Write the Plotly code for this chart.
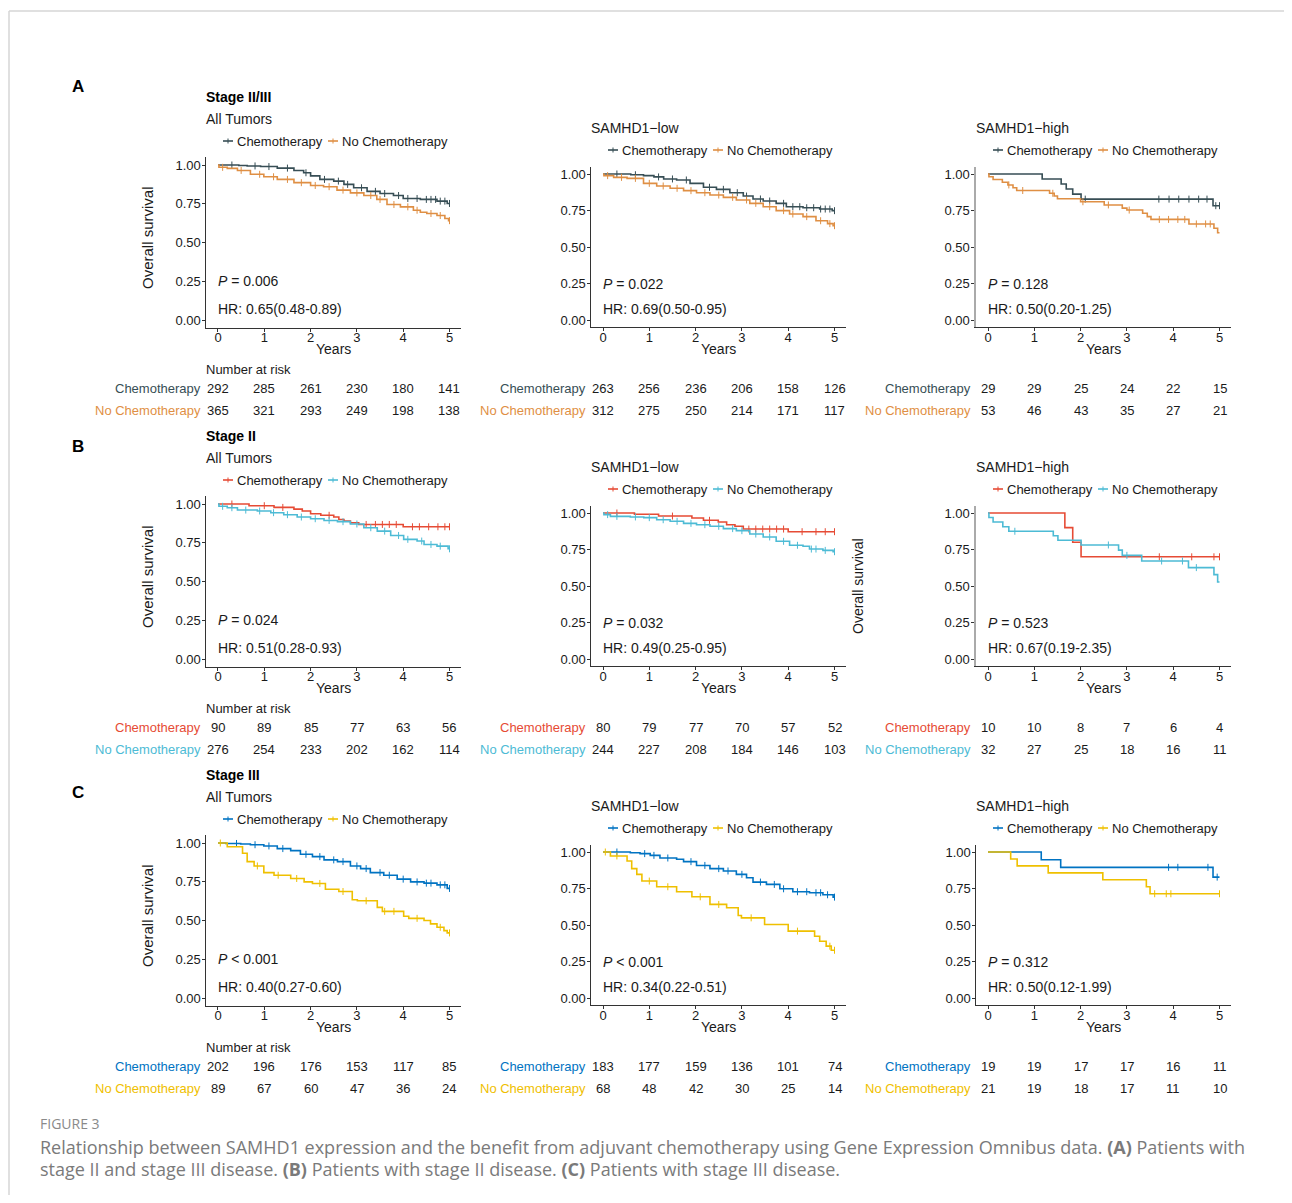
import plotly.graph_objects as go

# ---------------- data ----------------
TICK_YEARS = [0, 1, 2, 3, 4, 5]
TICK_SURV = [0.0, 0.25, 0.5, 0.75, 1.0]
TICK_SURV_TEXT = ["0.00", "0.25", "0.50", "0.75", "1.00"]
GROUPS = ["Chemotherapy", "No Chemotherapy"]
ROW_LETTERS = ["A", "B", "C"]
ROW_TITLES = ["Stage II/III", "Stage II", "Stage III"]
COL_TITLES = ["All Tumors", "SAMHD1\u2212low", "SAMHD1\u2212high"]
P_TEXT = [["= 0.006", "= 0.022", "= 0.128"],
          ["= 0.024", "= 0.032", "= 0.523"],
          ["< 0.001", "< 0.001", "= 0.312"]]
HR_TEXT = [["HR: 0.65(0.48-0.89)", "HR: 0.69(0.50-0.95)", "HR: 0.50(0.20-1.25)"],
           ["HR: 0.51(0.28-0.93)", "HR: 0.49(0.25-0.95)", "HR: 0.67(0.19-2.35)"],
           ["HR: 0.40(0.27-0.60)", "HR: 0.34(0.22-0.51)", "HR: 0.50(0.12-1.99)"]]

# Number at risk
RISK_A_ALL_CHEMO = [292, 285, 261, 230, 180, 141]
RISK_A_ALL_NOCHEMO = [365, 321, 293, 249, 198, 138]
RISK_A_LOW_CHEMO = [263, 256, 236, 206, 158, 126]
RISK_A_LOW_NOCHEMO = [312, 275, 250, 214, 171, 117]
RISK_A_HIGH_CHEMO = [29, 29, 25, 24, 22, 15]
RISK_A_HIGH_NOCHEMO = [53, 46, 43, 35, 27, 21]
RISK_B_ALL_CHEMO = [90, 89, 85, 77, 63, 56]
RISK_B_ALL_NOCHEMO = [276, 254, 233, 202, 162, 114]
RISK_B_LOW_CHEMO = [80, 79, 77, 70, 57, 52]
RISK_B_LOW_NOCHEMO = [244, 227, 208, 184, 146, 103]
RISK_B_HIGH_CHEMO = [10, 10, 8, 7, 6, 4]
RISK_B_HIGH_NOCHEMO = [32, 27, 25, 18, 16, 11]
RISK_C_ALL_CHEMO = [202, 196, 176, 153, 117, 85]
RISK_C_ALL_NOCHEMO = [89, 67, 60, 47, 36, 24]
RISK_C_LOW_CHEMO = [183, 177, 159, 136, 101, 74]
RISK_C_LOW_NOCHEMO = [68, 48, 42, 30, 25, 14]
RISK_C_HIGH_CHEMO = [19, 19, 17, 17, 16, 11]
RISK_C_HIGH_NOCHEMO = [21, 19, 18, 17, 11, 10]

# Kaplan-Meier steps (event times, survival after event) and censor times
A_ALL_CHEMO_T = [0.45, 0.63, 0.92, 1.28, 1.64, 1.85, 2.0, 2.2, 2.5, 2.72, 2.93, 3.22, 3.5, 3.79, 4.0, 4.37, 4.73, 4.95]
A_ALL_CHEMO_S = [0.997, 0.994, 0.99, 0.98, 0.965, 0.95, 0.93, 0.907, 0.896, 0.875, 0.853, 0.83, 0.816, 0.803, 0.784, 0.778, 0.767, 0.752]
A_ALL_CHEMO_C = [0.3, 0.8, 1.1, 1.5, 1.9, 2.3, 2.6, 2.8, 3.1, 3.4, 3.6, 3.9, 4.1, 4.3, 4.5, 4.6, 4.7, 4.8, 4.9, 5.0]
A_ALL_NOCHEMO_T = [0.02, 0.2, 0.42, 0.7, 0.99, 1.28, 1.64, 2.0, 2.28, 2.57, 2.86, 3.15, 3.43, 3.65, 3.94, 4.22, 4.37, 4.51, 4.73, 4.9, 4.98]
A_ALL_NOCHEMO_S = [0.985, 0.978, 0.965, 0.94, 0.924, 0.907, 0.886, 0.868, 0.86, 0.838, 0.82, 0.803, 0.778, 0.745, 0.73, 0.708, 0.695, 0.687, 0.674, 0.655, 0.641]
A_ALL_NOCHEMO_C = [0.1, 0.5, 0.9, 1.2, 1.5, 1.8, 2.1, 2.4, 2.7, 3.0, 3.3, 3.5, 3.8, 4.1, 4.3, 4.6, 4.8, 5.0]

A_LOW_CHEMO_T = [0.6, 0.875, 1.1, 1.31, 1.59, 1.88, 2.17, 2.45, 2.74, 3.03, 3.24, 3.46, 3.74, 3.96, 4.32, 4.68, 4.95]
A_LOW_CHEMO_S = [0.995, 0.989, 0.98, 0.966, 0.959, 0.936, 0.909, 0.895, 0.872, 0.849, 0.829, 0.815, 0.799, 0.776, 0.769, 0.76, 0.749]
A_LOW_CHEMO_C = [0.3, 0.7, 1.2, 1.5, 1.8, 2.3, 2.6, 2.9, 3.1, 3.4, 3.6, 3.9, 4.1, 4.25, 4.4, 4.55, 4.7, 4.8, 4.9, 5.0]
A_LOW_NOCHEMO_T = [0.02, 0.23, 0.52, 0.875, 1.16, 1.45, 1.74, 2.02, 2.31, 2.6, 2.88, 3.17, 3.46, 3.74, 4.03, 4.32, 4.6, 4.85, 4.97]
A_LOW_NOCHEMO_S = [0.989, 0.977, 0.97, 0.936, 0.918, 0.902, 0.886, 0.872, 0.856, 0.84, 0.822, 0.799, 0.776, 0.749, 0.726, 0.708, 0.68, 0.66, 0.646]
A_LOW_NOCHEMO_C = [0.1, 0.4, 0.7, 1.0, 1.3, 1.6, 1.9, 2.2, 2.5, 2.8, 3.1, 3.3, 3.6, 3.9, 4.1, 4.4, 4.7, 4.9, 5.0]

A_HIGH_CHEMO_T = [1.17, 1.58, 1.69, 1.83, 2.01, 4.86]
A_HIGH_CHEMO_S = [0.966, 0.931, 0.897, 0.862, 0.828, 0.783]
A_HIGH_CHEMO_C = [2.1, 3.69, 3.91, 4.12, 4.34, 4.55, 4.73, 4.92, 5.0]
A_HIGH_NOCHEMO_T = [0.02, 0.11, 0.31, 0.43, 0.54, 0.62, 1.33, 1.43, 1.5, 2.0, 2.51, 2.9, 3.0, 3.34, 3.44, 3.52, 4.34, 4.88, 4.96]
A_HIGH_NOCHEMO_S = [0.981, 0.962, 0.943, 0.925, 0.906, 0.887, 0.868, 0.849, 0.83, 0.81, 0.788, 0.766, 0.753, 0.731, 0.708, 0.689, 0.658, 0.628, 0.598]
A_HIGH_NOCHEMO_C = [0.45, 0.75, 1.4, 2.05, 2.6, 3.05, 3.7, 3.9, 4.1, 4.25, 4.5, 4.7, 4.8]

B_ALL_CHEMO_T = [0.67, 1.21, 1.64, 1.82, 2.0, 2.22, 2.5, 2.61, 2.72, 2.86, 3.04, 4.0]
B_ALL_CHEMO_S = [0.989, 0.978, 0.967, 0.955, 0.937, 0.927, 0.916, 0.9, 0.89, 0.879, 0.868, 0.853]
B_ALL_CHEMO_C = [0.3, 1.0, 1.4, 2.4, 3.2, 3.4, 3.55, 3.7, 3.85, 4.2, 4.35, 4.55, 4.75, 4.9, 5.0]
B_ALL_NOCHEMO_T = [0.02, 0.2, 0.42, 0.85, 1.14, 1.42, 1.71, 2.0, 2.29, 2.58, 2.86, 3.15, 3.44, 3.73, 4.01, 4.3, 4.45, 4.73, 4.97]
B_ALL_NOCHEMO_S = [0.985, 0.976, 0.961, 0.955, 0.944, 0.931, 0.916, 0.905, 0.894, 0.886, 0.871, 0.847, 0.825, 0.797, 0.772, 0.761, 0.739, 0.728, 0.711]
B_ALL_NOCHEMO_C = [0.1, 0.3, 0.6, 0.9, 1.2, 1.5, 1.8, 2.1, 2.4, 2.7, 3.0, 3.3, 3.6, 3.9, 4.1, 4.4, 4.6, 4.8, 5.0]

B_LOW_CHEMO_T = [0.68, 1.2, 1.92, 2.17, 2.49, 2.67, 2.85, 3.03, 4.0]
B_LOW_CHEMO_S = [0.991, 0.979, 0.966, 0.95, 0.938, 0.92, 0.909, 0.89, 0.872]
B_LOW_CHEMO_C = [0.3, 1.5, 2.3, 3.15, 3.3, 3.45, 3.6, 3.75, 3.9, 4.3, 4.6, 4.8, 5.0]
B_LOW_NOCHEMO_T = [0.02, 0.16, 0.59, 0.88, 1.16, 1.45, 1.74, 2.02, 2.31, 2.6, 2.88, 3.17, 3.46, 3.74, 4.03, 4.32, 4.46, 4.75, 4.97]
B_LOW_NOCHEMO_S = [0.989, 0.977, 0.973, 0.968, 0.954, 0.943, 0.929, 0.92, 0.909, 0.893, 0.879, 0.856, 0.836, 0.806, 0.779, 0.772, 0.753, 0.744, 0.735]
B_LOW_NOCHEMO_C = [0.1, 0.3, 0.7, 1.0, 1.3, 1.6, 1.9, 2.2, 2.5, 2.8, 3.0, 3.3, 3.6, 3.9, 4.2, 4.5, 4.6, 4.8, 5.0]

B_HIGH_CHEMO_T = [1.66, 1.83, 2.01]
B_HIGH_CHEMO_S = [0.9, 0.8, 0.7]
B_HIGH_CHEMO_C = [3.7, 4.4, 4.88, 5.0]
B_HIGH_NOCHEMO_T = [0.02, 0.11, 0.32, 0.45, 1.41, 1.51, 2.01, 2.82, 2.9, 3.32, 4.33, 4.88, 4.96]
B_HIGH_NOCHEMO_S = [0.969, 0.938, 0.906, 0.875, 0.844, 0.813, 0.781, 0.746, 0.71, 0.671, 0.626, 0.578, 0.527]
B_HIGH_NOCHEMO_C = [0.58, 2.6, 3.0, 3.75, 4.2, 4.5]

C_ALL_CHEMO_T = [0.17, 0.49, 0.7, 0.99, 1.28, 1.57, 1.78, 2.04, 2.29, 2.58, 2.86, 3.08, 3.29, 3.58, 3.87, 4.16, 4.45, 4.73, 4.95]
C_ALL_CHEMO_S = [0.997, 0.994, 0.989, 0.981, 0.964, 0.951, 0.927, 0.912, 0.891, 0.88, 0.852, 0.835, 0.809, 0.792, 0.767, 0.749, 0.741, 0.73, 0.707]
C_ALL_CHEMO_C = [0.4, 0.8, 1.1, 1.4, 1.9, 2.2, 2.5, 2.7, 3.0, 3.2, 3.5, 3.7, 4.0, 4.3, 4.5, 4.6, 4.8, 4.9, 5.0]
C_ALL_NOCHEMO_T = [0.2, 0.53, 0.63, 0.78, 0.99, 1.21, 1.57, 1.86, 2.04, 2.32, 2.61, 2.9, 3.01, 3.44, 3.55, 4.01, 4.12, 4.45, 4.59, 4.73, 4.88, 4.95]
C_ALL_NOCHEMO_S = [0.976, 0.934, 0.88, 0.852, 0.809, 0.792, 0.771, 0.749, 0.739, 0.702, 0.687, 0.634, 0.627, 0.585, 0.559, 0.527, 0.514, 0.5, 0.478, 0.456, 0.435, 0.42]
C_ALL_NOCHEMO_C = [0.05, 0.85, 1.3, 1.7, 2.2, 2.7, 3.2, 3.6, 3.8, 4.3, 4.8, 5.0]

C_LOW_CHEMO_T = [0.59, 0.8, 1.02, 1.23, 1.59, 1.74, 2.02, 2.31, 2.6, 2.88, 3.1, 3.24, 3.53, 3.82, 4.1, 4.46, 4.75, 4.97]
C_LOW_CHEMO_S = [0.995, 0.989, 0.977, 0.959, 0.95, 0.934, 0.908, 0.886, 0.87, 0.847, 0.824, 0.794, 0.778, 0.748, 0.728, 0.721, 0.707, 0.691]
C_LOW_CHEMO_C = [0.3, 0.9, 1.1, 1.4, 1.9, 2.2, 2.5, 2.7, 3.0, 3.4, 3.7, 3.9, 4.2, 4.4, 4.6, 4.7, 4.85, 5.0]
C_LOW_NOCHEMO_T = [0.16, 0.52, 0.62, 0.73, 0.84, 1.16, 1.59, 1.92, 2.31, 2.67, 2.92, 2.99, 3.49, 4.0, 4.57, 4.68, 4.82, 4.93]
C_LOW_NOCHEMO_S = [0.973, 0.938, 0.886, 0.847, 0.801, 0.762, 0.728, 0.693, 0.641, 0.618, 0.565, 0.549, 0.503, 0.458, 0.423, 0.389, 0.355, 0.327]
C_LOW_NOCHEMO_C = [0.05, 0.3, 1.0, 1.4, 2.1, 2.5, 3.2, 4.2, 4.9, 5.0]

C_HIGH_CHEMO_T = [1.15, 1.57, 4.86]
C_HIGH_CHEMO_S = [0.947, 0.895, 0.828]
C_HIGH_CHEMO_C = [3.9, 4.1, 4.75, 4.95]
C_HIGH_NOCHEMO_T = [0.49, 0.63, 1.3, 2.48, 3.42, 3.5]
C_HIGH_NOCHEMO_S = [0.952, 0.905, 0.857, 0.81, 0.762, 0.714]
C_HIGH_NOCHEMO_C = [3.6, 3.85, 3.95, 5.0]

ROW_COLORS = [("#374E55", "#DF8F44"), ("#E64B35", "#4DBBD5"), ("#0073C2", "#EFC000")]

PANELS = [
    [((A_ALL_CHEMO_T, A_ALL_CHEMO_S, A_ALL_CHEMO_C), (A_ALL_NOCHEMO_T, A_ALL_NOCHEMO_S, A_ALL_NOCHEMO_C), RISK_A_ALL_CHEMO, RISK_A_ALL_NOCHEMO),
     ((A_LOW_CHEMO_T, A_LOW_CHEMO_S, A_LOW_CHEMO_C), (A_LOW_NOCHEMO_T, A_LOW_NOCHEMO_S, A_LOW_NOCHEMO_C), RISK_A_LOW_CHEMO, RISK_A_LOW_NOCHEMO),
     ((A_HIGH_CHEMO_T, A_HIGH_CHEMO_S, A_HIGH_CHEMO_C), (A_HIGH_NOCHEMO_T, A_HIGH_NOCHEMO_S, A_HIGH_NOCHEMO_C), RISK_A_HIGH_CHEMO, RISK_A_HIGH_NOCHEMO)],
    [((B_ALL_CHEMO_T, B_ALL_CHEMO_S, B_ALL_CHEMO_C), (B_ALL_NOCHEMO_T, B_ALL_NOCHEMO_S, B_ALL_NOCHEMO_C), RISK_B_ALL_CHEMO, RISK_B_ALL_NOCHEMO),
     ((B_LOW_CHEMO_T, B_LOW_CHEMO_S, B_LOW_CHEMO_C), (B_LOW_NOCHEMO_T, B_LOW_NOCHEMO_S, B_LOW_NOCHEMO_C), RISK_B_LOW_CHEMO, RISK_B_LOW_NOCHEMO),
     ((B_HIGH_CHEMO_T, B_HIGH_CHEMO_S, B_HIGH_CHEMO_C), (B_HIGH_NOCHEMO_T, B_HIGH_NOCHEMO_S, B_HIGH_NOCHEMO_C), RISK_B_HIGH_CHEMO, RISK_B_HIGH_NOCHEMO)],
    [((C_ALL_CHEMO_T, C_ALL_CHEMO_S, C_ALL_CHEMO_C), (C_ALL_NOCHEMO_T, C_ALL_NOCHEMO_S, C_ALL_NOCHEMO_C), RISK_C_ALL_CHEMO, RISK_C_ALL_NOCHEMO),
     ((C_LOW_CHEMO_T, C_LOW_CHEMO_S, C_LOW_CHEMO_C), (C_LOW_NOCHEMO_T, C_LOW_NOCHEMO_S, C_LOW_NOCHEMO_C), RISK_C_LOW_CHEMO, RISK_C_LOW_NOCHEMO),
     ((C_HIGH_CHEMO_T, C_HIGH_CHEMO_S, C_HIGH_CHEMO_C), (C_HIGH_NOCHEMO_T, C_HIGH_NOCHEMO_S, C_HIGH_NOCHEMO_C), RISK_C_HIGH_CHEMO, RISK_C_HIGH_NOCHEMO)],
]

CAPTION_LABEL = "FIGURE 3"
CAPTION_LINE1 = ("Relationship between SAMHD1 expression and the benefit from adjuvant chemotherapy using "
                 "Gene Expression Omnibus data. <b>(A)</b> Patients with")
CAPTION_LINE2 = "stage II and stage III disease. <b>(B)</b> Patients with stage II disease. <b>(C)</b> Patients with stage III disease."

# ---------------- layout helpers ----------------
W, H, OFF = 1276, 1187, 8
FONT = "Liberation Sans, Arial, sans-serif"
TXT = "#1a1a1a"


def xp(px):
    return (px - OFF) / W


def yp(py):
    return 1 - (py - OFF) / H


COL_X0 = [218, 603, 988]          # pixel of year 0
PPX = 46.3                         # pixels per year
ROW_DY = 339


def surv_at(T, S, t):
    v = 1.0
    for ti, si in zip(T, S):
        if ti <= t:
            v = si
    return v


fig = go.Figure()
annos = []
shapes = []
layout_axes = {}

for r in range(3):
    for c in range(3):
        idx = r * 3 + c + 1
        xa = "x" if idx == 1 else f"x{idx}"
        ya = "y" if idx == 1 else f"y{idx}"
        xk = "xaxis" if idx == 1 else f"xaxis{idx}"
        yk = "yaxis" if idx == 1 else f"yaxis{idx}"
        x0 = COL_X0[c]
        y1 = (165 if c == 0 else 174) + ROW_DY * r
        y0 = 320 + ROW_DY * r
        ppy = y0 - y1
        xdom = [xp(x0 - 0.25 * PPX), xp(x0 + 5.25 * PPX)]
        ydom = [yp(y0 + 0.05 * ppy), yp(y1 - 0.05 * ppy)]
        thick_y = (c == 2 and r < 2)
        layout_axes[xk] = dict(domain=xdom, range=[-0.25, 5.25], anchor=ya,
                               tickvals=TICK_YEARS, ticktext=[str(v) for v in TICK_YEARS],
                               showline=True, linecolor="#333333", linewidth=1,
                               ticks="outside", ticklen=3, tickcolor="#333333",
                               ticklabelstandoff=-5,
                               showgrid=False, zeroline=False,
                               tickfont=dict(family=FONT, size=13, color=TXT))
        layout_axes[yk] = dict(domain=ydom, range=[-0.05, 1.05], anchor=xa,
                               tickvals=TICK_SURV, ticktext=TICK_SURV_TEXT,
                               showline=True, linecolor="#aaaaaa" if thick_y else "#333333",
                               linewidth=2 if thick_y else 1,
                               ticks="outside", ticklen=3, tickcolor="#333333",
                               ticklabelstandoff=-1,
                               showgrid=False, zeroline=False,
                               tickfont=dict(family=FONT, size=13, color=TXT))

        g1, g2, risk1, risk2 = PANELS[r][c]
        cols = ROW_COLORS[r]
        for (T, S, C), col in zip((g1, g2), cols):
            xs = [0] + list(T) + [5]
            ys = [1.0] + list(S) + [S[-1]]
            fig.add_trace(go.Scatter(x=xs, y=ys, mode="lines", line=dict(color=col, width=1.6, shape="hv"),
                                     xaxis=xa, yaxis=ya, showlegend=False, hoverinfo="skip"))
            fig.add_trace(go.Scatter(x=list(C), y=[surv_at(T, S, t) for t in C], mode="markers",
                                     marker=dict(symbol="line-ns", size=5, line=dict(color=col, width=1)),
                                     xaxis=xa, yaxis=ya, showlegend=False, hoverinfo="skip"))

        # P and HR text
        annos.append(dict(x=-0.04, y=0.25, xref=xa, yref=ya, xanchor="left", yanchor="middle",
                          text=f"<i>P</i> {P_TEXT[r][c]}", showarrow=False,
                          font=dict(family=FONT, size=14, color=TXT)))
        annos.append(dict(x=-0.04, y=0.072, xref=xa, yref=ya, xanchor="left", yanchor="middle",
                          text=HR_TEXT[r][c], showarrow=False,
                          font=dict(family=FONT, size=14, color=TXT)))
        # Years
        annos.append(dict(x=2.5, y=yp(349 + ROW_DY * r), xref=xa, yref="paper", xanchor="center",
                          yanchor="middle", text="Years", showarrow=False,
                          font=dict(family=FONT, size=14, color=TXT)))
        # titles
        label_left = x0 - 14
        if c == 0:
            annos.append(dict(x=xp(label_left), y=yp(97 + ROW_DY * r), xref="paper", yref="paper",
                              xanchor="left", yanchor="middle", text=f"<b>{ROW_TITLES[r]}</b>",
                              showarrow=False, font=dict(family=FONT, size=14, color="#000")))
            annos.append(dict(x=xp(label_left), y=yp(119 + ROW_DY * r), xref="paper", yref="paper",
                              xanchor="left", yanchor="middle", text=COL_TITLES[c],
                              showarrow=False, font=dict(family=FONT, size=14, color=TXT)))
            leg_y = 141 + ROW_DY * r
        else:
            annos.append(dict(x=xp(label_left), y=yp(128 + ROW_DY * r), xref="paper", yref="paper",
                              xanchor="left", yanchor="middle", text=COL_TITLES[c],
                              showarrow=False, font=dict(family=FONT, size=14, color=TXT)))
            leg_y = 150 + ROW_DY * r
        # legend
        leg_x = [x0 + 5, x0 + 110]
        for lx, g, col in zip(leg_x, GROUPS, cols):
            shapes.append(dict(type="line", xref="paper", yref="paper", x0=xp(lx), x1=xp(lx + 10),
                               y0=yp(leg_y), y1=yp(leg_y), line=dict(color=col, width=1.6)))
            shapes.append(dict(type="line", xref="paper", yref="paper", x0=xp(lx + 5), x1=xp(lx + 5),
                               y0=yp(leg_y - 2.5), y1=yp(leg_y + 2.5), line=dict(color=col, width=1)))
            annos.append(dict(x=xp(lx + 12), y=yp(leg_y), xref="paper", yref="paper",
                              xanchor="left", yanchor="middle", text=g, showarrow=False,
                              font=dict(family=FONT, size=13, color=TXT)))
        # number at risk
        if c == 0:
            annos.append(dict(x=xp(label_left), y=yp(369 + ROW_DY * r), xref="paper", yref="paper",
                              xanchor="left", yanchor="middle", text="Number at risk",
                              showarrow=False, font=dict(family=FONT, size=13, color=TXT)))
        for ry, g, col, risk in zip((388, 410), GROUPS, cols, (risk1, risk2)):
            yy = yp(ry + ROW_DY * r)
            annos.append(dict(x=xp(x0 - 15), y=yy, xref="paper", yref="paper", xanchor="right",
                              yanchor="middle", text=g, showarrow=False,
                              font=dict(family=FONT, size=13, color=col)))
            for t, n in zip(TICK_YEARS, risk):
                annos.append(dict(x=t, y=yy, xref=xa, yref="paper", xanchor="center",
                                  yanchor="middle", text=str(n), showarrow=False,
                                  font=dict(family=FONT, size=13, color=TXT)))

    # row y-axis title and panel letter
    annos.append(dict(x=xp(147), y=yp(238 + ROW_DY * r), xref="paper", yref="paper", textangle=-90,
                      xanchor="center", yanchor="middle", text="Overall survival", showarrow=False,
                      font=dict(family=FONT, size=15, color=TXT)))
    annos.append(dict(x=xp(78), y=yp([86, 446, 792][r]), xref="paper", yref="paper",
                      xanchor="center", yanchor="middle", text=f"<b>{ROW_LETTERS[r]}</b>",
                      showarrow=False, font=dict(family=FONT, size=17, color="#000")))

# stray axis title in row B
annos.append(dict(x=xp(858), y=yp(586), xref="paper", yref="paper", textangle=-90,
                  xanchor="center", yanchor="middle", text="Overall survival", showarrow=False,
                  font=dict(family=FONT, size=14, color=TXT)))

# caption
CAP_FONT = "Open Sans, Liberation Sans, sans-serif"
annos.append(dict(x=xp(38), y=yp(1123), xref="paper", yref="paper", xanchor="left", yanchor="middle",
                  text=CAPTION_LABEL, showarrow=False, font=dict(family=CAP_FONT, size=14, color="#8a8a8a")))
for ly, line in zip((1147, 1169), (CAPTION_LINE1, CAPTION_LINE2)):
    annos.append(dict(x=xp(38), y=yp(ly), xref="paper", yref="paper", xanchor="left", yanchor="middle",
                      text=line, showarrow=False, font=dict(family=CAP_FONT, size=18, color="#7a7a7a")))

# frame
shapes.append(dict(type="line", xref="paper", yref="paper", x0=xp(9), x1=xp(1292), y0=yp(11), y1=yp(11),
                   line=dict(color="#d6d6d6", width=1.5)))
shapes.append(dict(type="line", xref="paper", yref="paper", x0=xp(9), x1=xp(9), y0=yp(11), y1=yp(1203),
                   line=dict(color="#d6d6d6", width=1.5)))

fig.update_layout(width=W, height=H, margin=dict(l=0, r=0, t=0, b=0),
                  paper_bgcolor="white", plot_bgcolor="white",
                  annotations=annos, shapes=shapes, showlegend=False, **layout_axes)

fig.write_html("out.html")
